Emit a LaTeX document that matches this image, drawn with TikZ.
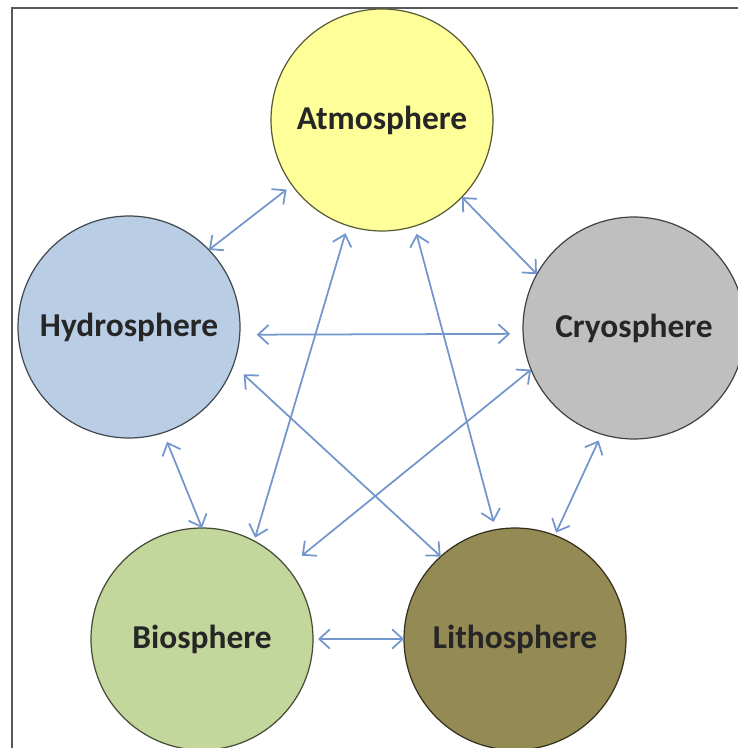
\documentclass[tikz,border=0pt]{standalone}
\usepackage{fontspec}
\setmainfont{Carlito}
\usetikzlibrary{arrows.meta,calc}

\definecolor{atmofill}{RGB}{255,255,153}
\definecolor{hydrofill}{RGB}{185,205,229}
\definecolor{cryofill}{RGB}{191,191,191}
\definecolor{biofill}{RGB}{195,214,155}
\definecolor{lithofill}{RGB}{148,138,84}
\definecolor{linkblue}{RGB}{115,150,205}

\begin{document}
\begin{tikzpicture}
\tikzset{sphere/.style={circle,draw,line width=0.7pt,minimum size=4.44cm,inner sep=0pt,outer sep=0pt,
           font=\fontsize{19}{21}\selectfont\bfseries,text=black!85},
         link/.style={{Straight Barb[length=6pt,width=11pt]}-{Straight Barb[length=6pt,width=11pt]},
           draw=linkblue,line width=1pt}};
   \useasboundingbox (0,0) rectangle (14.76,-14.96);
   \draw[line width=1.2pt,black!65] (0.24,-16) -- (0.24,-0.16) -- (16,-0.16);

   \node[sphere,fill=atmofill,draw=atmofill!35!black] at (7.64,-2.40) (A) {Atmosphere};
   \node[sphere,fill=hydrofill,draw=hydrofill!35!black] at (2.58,-6.54) (H) {Hydrosphere};
   \node[sphere,fill=cryofill,draw=cryofill!35!black] at (12.68,-6.56) (C) {Cryosphere};
   \node[sphere,fill=biofill,draw=biofill!35!black] at (4.04,-12.78) (B) {Biosphere};
   \node[sphere,fill=lithofill,draw=lithofill!35!black] at (10.30,-12.78) (L) {Lithosphere};

   \draw[link,shorten >=0.14cm] (H.44) -- (A.216);
   \draw[link] (A.-44) -- (C.151);
   \draw[link,shorten <=0.34cm,shorten >=0.26cm] (H.-4) -- (C.183.3);
   \draw[link,shorten <=0.16cm,shorten >=0.07cm] (A.252) -- (B.62);
   \draw[link,shorten <=0.16cm,shorten >=0.16cm] (A.287) -- (L.100);
   \draw[link,shorten <=0.28cm] (H.-20) -- (L.132);
   \draw[link,shorten >=0.38cm] (C.202) -- (B.40);
   \draw[link,shorten <=0.2cm] (H.288) -- (B.90);
   \draw[link,shorten <=0.14cm,shorten >=0.06cm] (C.253) -- (L.69.5);
   \draw[link,shorten <=0.1cm] (B.0) -- (L.180);
\end{tikzpicture}
\end{document}
